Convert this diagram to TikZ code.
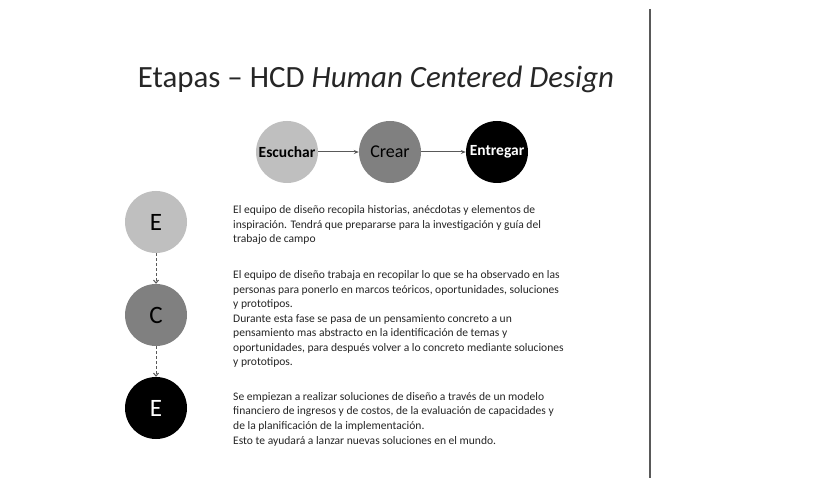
\documentclass[tikz,border=0pt]{standalone}
\usepackage{fontspec}
\setmainfont{Carlito}
\usetikzlibrary{arrows.meta}
\definecolor{lgray}{HTML}{BFBFBF}
\definecolor{mgray}{HTML}{808080}
\definecolor{txt}{HTML}{262626}
\definecolor{arr}{HTML}{595959}
\begin{document}
\begin{tikzpicture}[x=1pt,y=-1pt,
  stage/.style={circle,minimum size=62pt,inner sep=0pt},
  hconn/.style={draw=arr,line width=1pt,-{Stealth[length=5pt,width=4pt]}},
  vconn/.style={draw=arr,line width=1pt,densely dashed,-{Straight Barb[length=3pt,width=5pt]}},
  letter/.style={stage,font=\fontsize{25}{27}\selectfont},
  para/.style={anchor=base west,inner sep=0pt,align=left,text=txt,font=\fontsize{11.55}{14.5}\selectfont}]
\fill[white] (0,0) rectangle (822,478);
\useasboundingbox (0,0) rectangle (822,478);
\draw[color=arr,line width=1.5pt] (650,9) -- (650,478);
\node[anchor=base,text=txt,font=\fontsize{30.9}{34}\selectfont] (title) at (376,88) {Etapas -- HCD \textit{Human Centered Design}};
\node[stage,fill=lgray,font=\fontsize{15.5}{16}\selectfont\bfseries] (esc) at (287,152) {Escuchar};
\node[stage,fill=mgray,font=\fontsize{18}{20}\selectfont] (cre) at (390,152) {Crear};
\node[stage,fill=black,text=white,font=\fontsize{15.5}{16}\selectfont\bfseries] (ent) at (497,152) {Entregar};
\draw[hconn] (esc) -- (cre);
\draw[hconn] (cre) -- (ent);
\node[letter,fill=lgray] (e1) at (156,222) {E};
\node[letter,fill=mgray] (c1) at (156,315) {C};
\node[letter,fill=black,text=white] (e2) at (156,408) {E};
\draw[vconn] (e1) -- (c1);
\draw[vconn] (c1) -- (e2);
\node[para] (p1) at (233,243) {El equipo de diseño recopila historias, anécdotas y elementos de\\inspiración. Tendrá que prepararse para la investigación y guía del\\trabajo de campo};
\node[para] (p2) at (233,308) {El equipo de diseño trabaja en recopilar lo que se ha observado en las\\personas para ponerlo en marcos teóricos, oportunidades, soluciones\\y prototipos.};
\node[para] (p3) at (233,366) {Durante esta fase se pasa de un pensamiento concreto a un\\pensamiento mas abstracto en la identificación de temas y\\oportunidades, para después volver a lo concreto mediante soluciones\\y prototipos.};
\node[para] (p4) at (233,429) {Se empiezan a realizar soluciones de diseño a través de un modelo\\financiero de ingresos y de costos, de la evaluación de capacidades y\\de la planificación de la implementación.};
\node[para] (p5) at (233,444) {Esto te ayudará a lanzar nuevas soluciones en el mundo.};
\end{tikzpicture}
\end{document}
